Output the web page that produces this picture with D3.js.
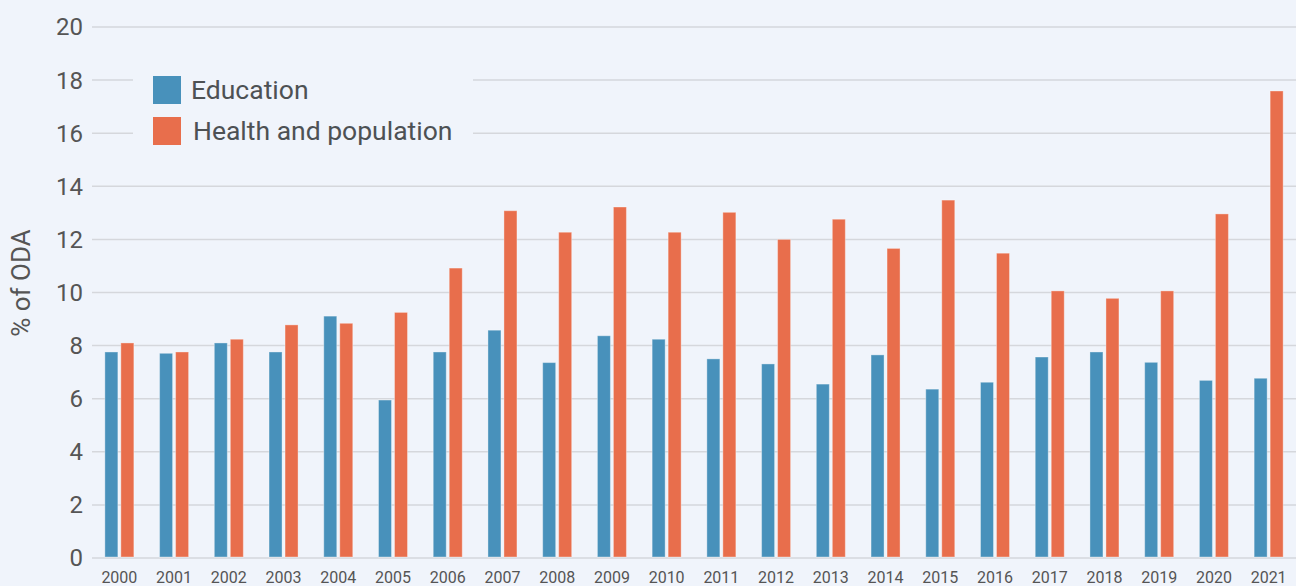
<!DOCTYPE html>
<html>
<head>
<meta charset="utf-8">
<script src="https://cdn.jsdelivr.net/npm/d3@7"></script>
<style>
  html, body { margin: 0; padding: 0; background: #f0f4fb; }
  svg { display: block; font-family: Roboto, "Noto Sans", sans-serif; }
</style>
</head>
<body>
<div id="chart"></div>
<script>
const years = ['2000', '2001', '2002', '2003', '2004', '2005', '2006', '2007', '2008', '2009', '2010',
    '2011', '2012', '2013', '2014', '2015', '2016', '2017', '2018', '2019', '2020', '2021'];
const education = [7.76, 7.71, 8.1, 7.76, 9.11, 5.95, 7.76, 8.58, 7.36, 8.37, 8.24,
    7.5, 7.31, 6.55, 7.65, 6.36, 6.62, 7.57, 7.76, 7.37, 6.69, 6.77];
const health = [8.1, 7.76, 8.24, 8.78, 8.84, 9.25, 10.92, 13.08, 12.27, 13.22, 12.27,
    13.02, 12.0, 12.76, 11.66, 13.48, 11.48, 10.06, 9.78, 10.06, 12.96, 17.59];
const yTicks = [0, 2, 4, 6, 8, 10, 12, 14, 16, 18, 20];
const seriesNames = ['Education', 'Health and population'];
const colors = ['#4891bb', '#e86e4c'];

const W = 1296, H = 586;
const margin = { top: 27, right: 0, bottom: 28, left: 92 };
const width = W - margin.left - margin.right;
const height = H - margin.top - margin.bottom;

const svg = d3.select('#chart')
    .append('svg')
    .attr('width', W)
    .attr('height', H);

const g = svg.append('g')
    .attr('transform', `translate(${margin.left},${margin.top})`);

const x = d3.scaleBand()
    .domain(years)
    .range([0, width]);

const y = d3.scaleLinear()
    .domain([0, 20])
    .range([height, 0]);

// gridlines
g.append('g')
    .selectAll('line')
    .data(yTicks)
    .join('line')
    .attr('x1', 0)
    .attr('x2', width)
    .attr('y1', d => y(d))
    .attr('y2', d => y(d))
    .attr('stroke', '#d5d7dc')
    .attr('stroke-width', 1.5);

// y tick labels
g.append('g')
    .selectAll('text')
    .data(yTicks)
    .join('text')
    .attr('x', -9)
    .attr('y', d => y(d))
    .attr('dy', '0.35em')
    .attr('text-anchor', 'end')
    .style('font-size', '24px')
    .style('fill', '#555')
    .text(d => d);

// x tick labels
g.append('g')
    .selectAll('text')
    .data(years)
    .join('text')
    .attr('x', d => x(d) + x.bandwidth() / 2)
    .attr('y', height + 25)
    .attr('text-anchor', 'middle')
    .style('font-size', '16px')
    .style('fill', '#555')
    .text(d => d);

// y axis title
svg.append('text')
    .attr('transform', 'translate(30,283) rotate(-90)')
    .attr('text-anchor', 'middle')
    .style('font-size', '26px')
    .style('fill', '#555')
    .text('% of ODA');

// legend background (hides gridlines behind it)
const legend = g.append('g');
legend.append('rect')
    .attr('x', 41)
    .attr('y', 30)
    .attr('width', 340)
    .attr('height', 126)
    .attr('fill', '#f0f4fb');

seriesNames.forEach((name, i) => {
    legend.append('rect')
        .attr('x', 61)
        .attr('y', 49 + i * 41)
        .attr('width', 28)
        .attr('height', 28)
        .attr('fill', colors[i]);
    legend.append('text')
        .attr('x', 99 + i * 2)
        .attr('y', 63 + i * 41)
        .attr('dy', '0.35em')
        .style('font-size', '26.5px')
        .style('fill', '#4d5154')
        .text(name);
});

// bars
const series = [education, health];
series.forEach((vals, s) => {
    g.append('g')
        .selectAll('rect')
        .data(vals)
        .join('rect')
        .attr('x', (d, i) => x(years[i]) + x.bandwidth() / 2 + (s === 0 ? -14.5 : 1.5))
        .attr('y', d => y(d))
        .attr('width', 13)
        .attr('height', d => y(0) - y(d) - 1)
        .attr('fill', colors[s])
        .attr('stroke', 'rgba(255,255,255,0.35)')
        .attr('stroke-width', 1);
});
</script>
</body>
</html>
